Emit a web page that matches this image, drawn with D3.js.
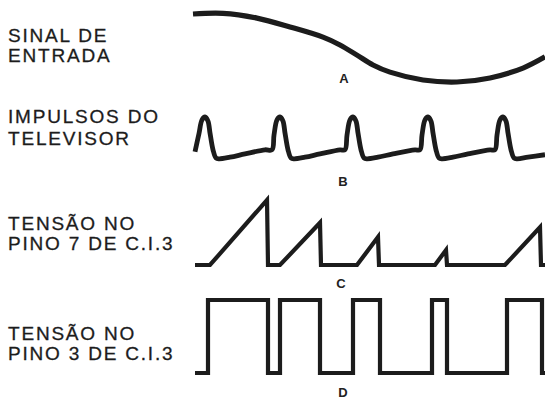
<!DOCTYPE html>
<html>
<head>
<meta charset="utf-8">
<script src="https://d3js.org/d3.v7.min.js"></script>
<style>
  body { margin: 0; background: #fff; }
  svg { display: block; background: #fff; }
  .wave { fill: none; stroke: #1c1c1c; }
  .label { font-family: "Liberation Sans", Arial, sans-serif; font-size: 19px; letter-spacing: 1.8px; fill: #1c1c1c; stroke: #1c1c1c; stroke-width: 0.3px; }
  .letter { font-family: "Liberation Sans", Arial, sans-serif; font-size: 13px; font-weight: bold; fill: #222; text-anchor: middle; }
</style>
</head>
<body>
<svg width="545" height="400"></svg>
<script>
// row captions (left column)
var captions = [
    ["SINAL DE", "ENTRADA"],
    ["IMPULSOS DO", "TELEVISOR"],
    ["TENSÃO NO", "PINO 7 DE C.I.3"],
    ["TENSÃO NO", "PINO 3 DE C.I.3"]
];
var letters = ["A", "B", "C", "D"];

// A - input signal (slow wave)
var aTime  = [3, 33, 67, 100, 133, 150, 167, 183, 200, 233, 267, 300, 333, 355];
var aValue = [1.0, 1.02, 0.88, 0.62, 0.32, 0.09, -0.21, -0.5, -0.71, -0.94, -1.0, -0.88, -0.59, -0.26];

// B - TV sync pulses
var bTime  = [5, 9, 12, 15, 18, 20, 23, 26, 29, 40, 55, 75, 82,
              84, 87, 90, 93, 95, 98, 101, 104, 115, 130, 150, 155,
              157, 160, 163, 166, 168, 171, 174, 177, 188, 203, 225, 230,
              232, 235, 238, 241, 243, 246, 249, 252, 263, 278, 300, 305,
              307, 310, 313, 316, 318, 321, 324, 327, 338, 355];
var bValue = [0.15, 0.6, 0.93, 1.0, 0.9, 0.61, 0.2, 0, -0.02, 0.02, 0.1, 0.2, 0.2,
              0.56, 0.93, 1.0, 0.9, 0.61, 0.2, 0, -0.02, 0.02, 0.1, 0.2, 0.2,
              0.56, 0.93, 1.0, 0.9, 0.61, 0.2, 0, -0.02, 0.02, 0.1, 0.2, 0.2,
              0.56, 0.93, 1.0, 0.9, 0.61, 0.2, 0, -0.02, 0.02, 0.1, 0.2, 0.2,
              0.56, 0.93, 1.0, 0.9, 0.61, 0.2, 0, -0.02, 0.02, 0.08];

// C - voltage at pin 7 (sawtooth)
var cTime  = [5, 20, 77, 78, 90, 130, 131, 167, 188, 189, 245, 256, 257, 315, 350, 351, 355];
var cValue = [0, 0, 1.0, 0, 0, 0.65, 0, 0, 0.43, 0, 0, 0.23, 0, 0, 0.58, 0, 0];

// D - voltage at pin 3 (square wave), value held until next time
var dTime  = [5, 18, 78, 90, 130, 163, 190, 242, 257, 317, 352, 355];
var dValue = [0, 1, 0, 1, 0, 1, 0, 1, 0, 1, 0, 0];

var svg = d3.select("svg");

// shared time axis for all four traces
var x = d3.scaleLinear().domain([0, 355]).range([190, 545]);

// one vertical scale per trace
var yA = d3.scaleLinear().domain([-1, 1]).range([82, 14]);
var yB = d3.scaleLinear().domain([0, 1]).range([158, 117]);
var yC = d3.scaleLinear().domain([0, 1]).range([265, 200]);
var yD = d3.scaleLinear().domain([0, 1]).range([373, 300]);

function zipPts(t, v) {
    return t.map(function(d, i) { return [d, v[i]]; });
}

function drawWave(t, v, y, curve, width, join) {
    var line = d3.line()
        .x(function(d) { return x(d[0]); })
        .y(function(d) { return y(d[1]); })
        .curve(curve);
    svg.append("path")
        .attr("class", "wave")
        .attr("d", line(zipPts(t, v)))
        .attr("stroke-width", width)
        .attr("stroke-linejoin", join)
        .attr("stroke-linecap", "butt");
}

drawWave(aTime, aValue, yA, d3.curveCatmullRom.alpha(0.5), 5.2, "round");
drawWave(bTime, bValue, yB, d3.curveCatmullRom.alpha(0.5), 4.8, "round");
drawWave(cTime, cValue, yC, d3.curveLinear, 4.2, "miter");
drawWave(dTime, dValue, yD, d3.curveStepAfter, 4.2, "miter");

// captions on the left
var capY = [[42, 62], [123, 145], [230, 250], [340, 360]];
captions.forEach(function(c, i) {
    c.forEach(function(s, j) {
        svg.append("text")
            .attr("class", "label")
            .attr("x", 8)
            .attr("y", capY[i][j])
            .text(s);
    });
});

// small letters under each trace
var letterPos = [[344, 83], [343, 186], [341, 288], [343, 397]];
letters.forEach(function(l, i) {
    svg.append("text")
        .attr("class", "letter")
        .attr("x", letterPos[i][0])
        .attr("y", letterPos[i][1])
        .text(l);
});
</script>
</body>
</html>
